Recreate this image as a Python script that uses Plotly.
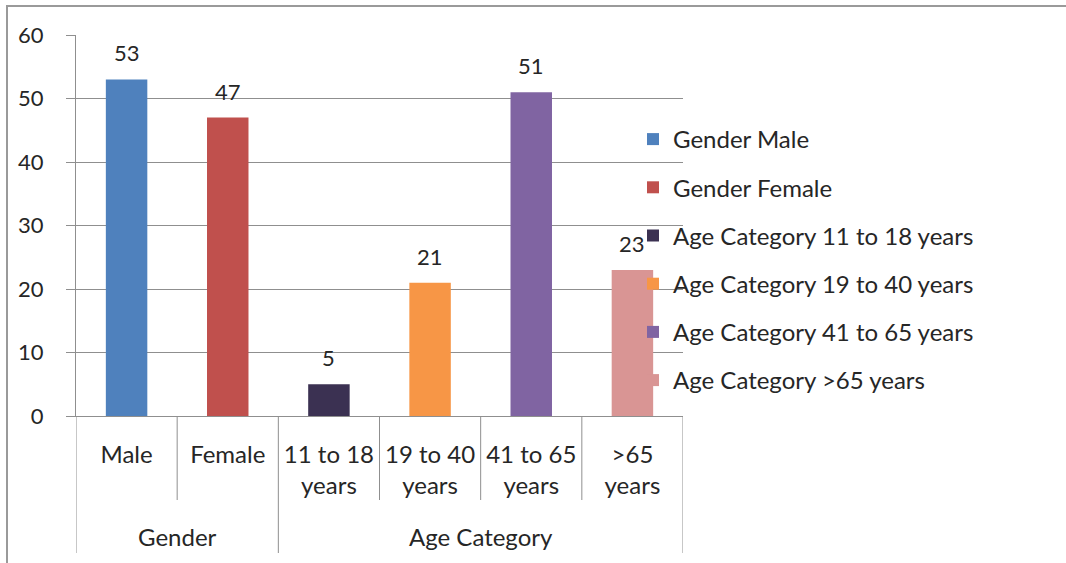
import plotly.graph_objects as go

# ---- data ----
categories = ["Male", "Female", "11 to 18<br>years", "19 to 40<br>years", "41 to 65<br>years", ">65<br>years"]
series_names = ["Gender Male", "Gender Female", "Age Category 11 to 18 years",
                "Age Category 19 to 40 years", "Age Category 41 to 65 years", "Age Category >65 years"]
values = [53, 47, 5, 21, 51, 23]
groups = ["Gender", "Age Category"]
group_members = [[0, 1], [2, 3, 4, 5]]
y_ticks = [0, 10, 20, 30, 40, 50, 60]

colors = ["#4F81BD", "#C0504D", "#3B3152", "#F79646", "#8064A2", "#D99594"]

FONT = "Lato"
TXT = "#262626"
GRID = "#8f8f8f"
FS = 24

W, H = 1066, 563
L, R, T, B = 76, 383, 35, 147
pw, ph = W - L - R, H - T - B

def px_to_paper_x(px):
    return (px - L) / pw

def px_to_paper_y(py):
    return (H - B - py) / ph

fig = go.Figure()
xs = list(range(len(categories)))
for i, (name, v) in enumerate(zip(series_names, values)):
    fig.add_trace(go.Bar(
        x=[xs[i]], y=[v], name=name, width=0.41,
        marker=dict(color=colors[i], line=dict(width=0)),
        legendgroup=name, showlegend=True,
    ))
    fig.add_annotation(x=xs[i], y=v, text=str(v), showarrow=False,
                       yanchor="bottom", yshift=11,
                       font=dict(family=FONT, size=22, color=TXT))

# group labels
for g, mem in zip(groups, group_members):
    cx = (mem[0] + mem[-1]) / 2
    fig.add_annotation(x=cx, xref="x", y=px_to_paper_y(536), yref="paper",
                       text=g, showarrow=False, yanchor="middle",
                       font=dict(family=FONT, size=FS, color=TXT))

# divider lines for category axis
short_bottom = px_to_paper_y(500)
long_bottom = px_to_paper_y(553)
group_edges = set()
for mem in group_members:
    group_edges.add(mem[0] - 0.5)
    group_edges.add(mem[-1] + 0.5)
for k in range(len(categories) + 1):
    xb = k - 0.5
    yb = long_bottom if xb in group_edges else short_bottom
    fig.add_shape(type="line", xref="x", yref="paper", x0=xb, x1=xb, y0=0, y1=yb,
                  line=dict(color=GRID, width=1))

# outer chart border (top & left visible)
fig.add_shape(type="rect", xref="paper", yref="paper",
              x0=px_to_paper_x(7), x1=px_to_paper_x(1100),
              y0=px_to_paper_y(600), y1=px_to_paper_y(6),
              line=dict(color="#9a9a9a", width=2), layer="below")

fig.update_layout(
    width=W, height=H,
    margin=dict(l=L, r=R, t=T, b=B, pad=0),
    paper_bgcolor="white", plot_bgcolor="white",
    barmode="overlay",
    font=dict(family=FONT, size=FS, color=TXT),
    legend=dict(x=px_to_paper_x(633), xanchor="left", y=px_to_paper_y(117), yanchor="top",
                font=dict(family=FONT, size=FS, color=TXT),
                tracegroupgap=14, bgcolor="rgba(0,0,0,0)"),
    xaxis=dict(range=[-0.5, len(categories) - 0.5], tickvals=xs, ticktext=categories,
               showline=True, linecolor=GRID, linewidth=1, showgrid=False, ticks="",
               ticklabelstandoff=17, zeroline=False, fixedrange=True,
               tickfont=dict(family=FONT, size=FS, color=TXT)),
    yaxis=dict(range=[0, 60], tickvals=y_ticks, showline=True, linecolor=GRID, linewidth=1,
               showgrid=True, gridcolor=GRID, gridwidth=1, ticks="outside", ticklen=9,
               tickcolor=GRID, zeroline=False, ticklabelstandoff=18,
               tickfont=dict(family=FONT, size=22, color=TXT)),
)

fig.write_html("out.html")
